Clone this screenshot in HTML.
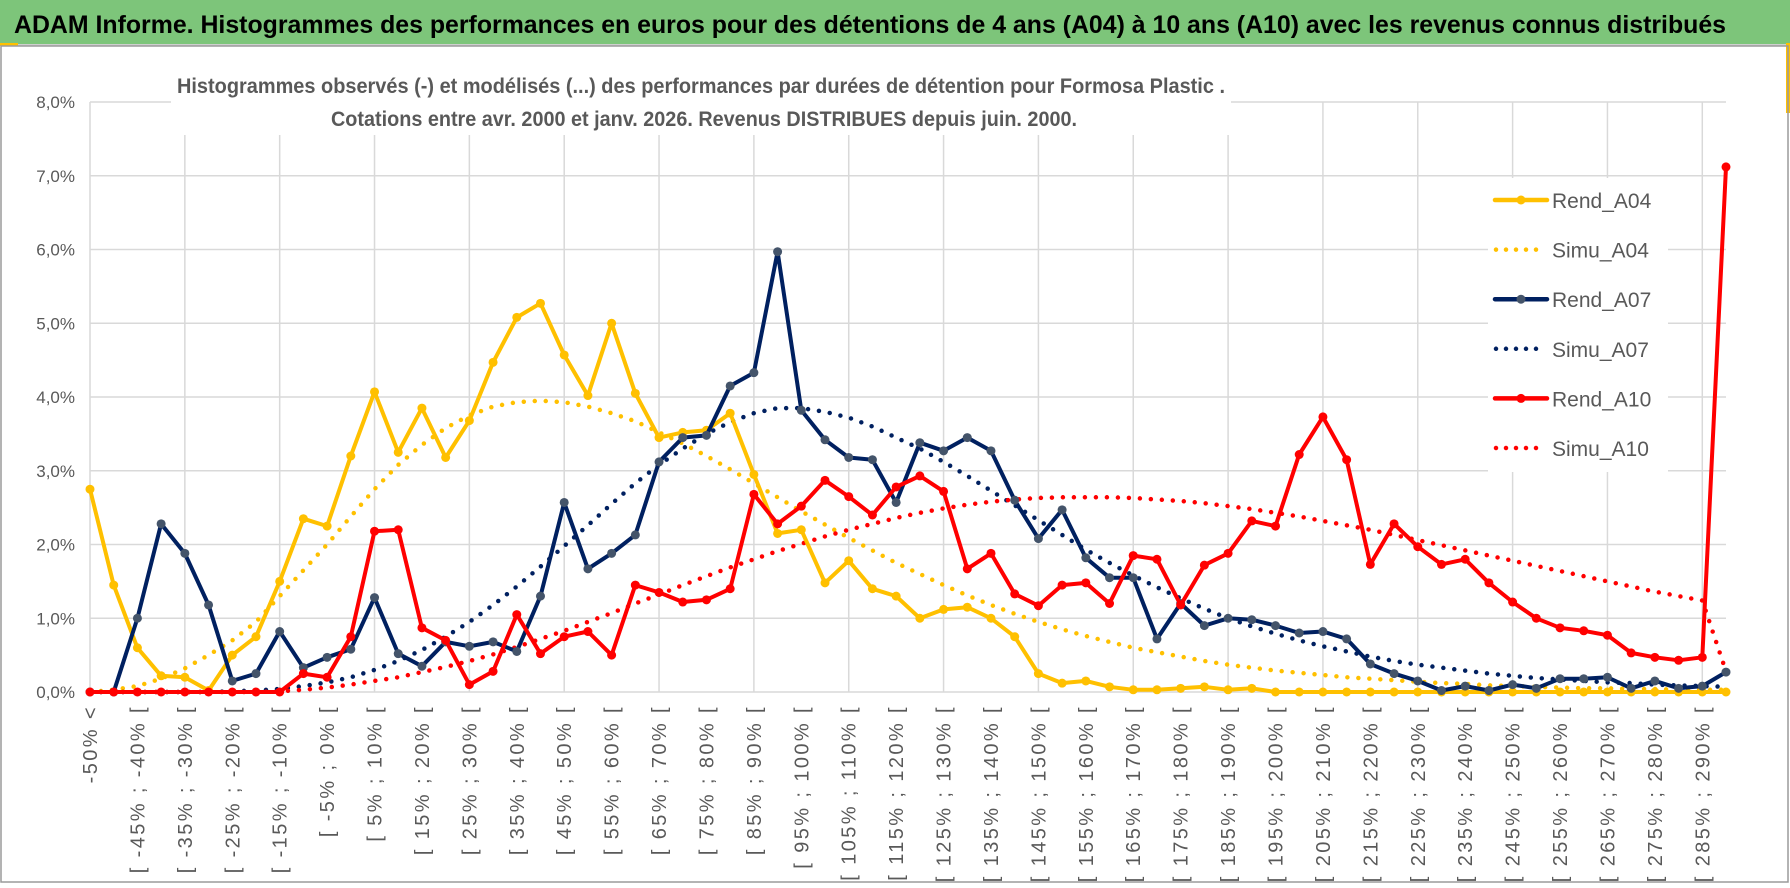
<!DOCTYPE html>
<html><head><meta charset="utf-8"><style>
html,body{margin:0;padding:0;background:#fff;width:1790px;height:888px;overflow:hidden}
svg{display:block;font-family:"Liberation Sans Narrow","Liberation Sans",sans-serif}
</style></head><body>
<svg id="chart" width="1790" height="888" viewBox="0 0 1790 888" xmlns="http://www.w3.org/2000/svg">
<rect x="0" y="0" width="1790" height="888" fill="#fff"/>
<rect x="0" y="0" width="1790" height="44" fill="#7DC57A"/>
<line x1="0" y1="45" x2="1790" y2="45" stroke="#cfcfcf" stroke-width="2"/>
<rect x="0" y="43" width="18" height="3" fill="#FFC000"/>
<rect x="1786" y="43" width="4" height="70" fill="#FFC000"/>
<text x="14" y="33" font-size="25" font-weight="bold" fill="#000" textLength="1712" lengthAdjust="spacingAndGlyphs">ADAM Informe. Histogrammes des performances en euros pour des détentions de 4 ans (A04) à 10 ans (A10) avec les revenus connus distribués</text>
<rect x="1" y="46" width="1787" height="836" fill="none" stroke="#9a9a9a" stroke-width="1.5"/>
<g id="grid"></g>
<rect x="171" y="70" width="1060" height="65" fill="#fff"/>
<text x="177" y="93" font-size="21" font-weight="bold" fill="#595959" textLength="1048" lengthAdjust="spacingAndGlyphs">Histogrammes observés (-) et modélisés (...) des performances par durées de détention pour Formosa Plastic .</text>
<text x="331" y="126" font-size="21" font-weight="bold" fill="#595959" textLength="746" lengthAdjust="spacingAndGlyphs">Cotations entre avr. 2000 et janv. 2026. Revenus DISTRIBUES depuis juin. 2000.</text>
<g id="yaxis"></g>
<g id="xaxis"></g>
<g id="series"></g>
<g id="legend"></g>
</svg>
<script>
const categories = (function(){const a=["-50% <"];for(let k=1;k<70;k++){const lo=-50+5*(k-1),hi=lo+5;a.push("[ "+lo+"% ; "+hi+"% [");}return a;})();
const yTicks = [0,1,2,3,4,5,6,7,8];
const yTickLabels = ["0,0%","1,0%","2,0%","3,0%","4,0%","5,0%","6,0%","7,0%","8,0%"];
const rendA04 = [2.75,1.45,0.6,0.22,0.2,0.02,0.5,0.75,1.5,2.35,2.25,3.2,4.07,3.25,3.85,3.18,3.68,4.47,5.08,5.27,4.57,4.02,5.0,4.05,3.45,3.52,3.55,3.78,2.95,2.15,2.2,1.48,1.78,1.4,1.3,1.0,1.12,1.15,1.0,0.75,0.25,0.12,0.15,0.07,0.03,0.03,0.05,0.07,0.03,0.05,0,0,0,0,0,0,0,0,0,0,0,0,0,0,0,0,0,0,0,0];
const simuA04 = [0,0.03,0.08,0.18,0.32,0.5,0.7,0.95,1.3,1.65,2.0,2.38,2.75,3.08,3.35,3.58,3.75,3.87,3.93,3.95,3.93,3.87,3.78,3.67,3.52,3.37,3.2,3.02,2.83,2.64,2.45,2.27,2.09,1.92,1.75,1.6,1.45,1.31,1.18,1.06,0.95,0.85,0.76,0.68,0.6,0.54,0.48,0.42,0.37,0.33,0.29,0.26,0.23,0.2,0.18,0.16,0.14,0.12,0.11,0.09,0.08,0.07,0.06,0.05,0.05,0.04,0.04,0.03,0.03,0.03];
const rendA07 = [0,0,1.0,2.28,1.88,1.18,0.15,0.25,0.82,0.33,0.47,0.58,1.28,0.52,0.35,0.68,0.62,0.68,0.55,1.3,2.57,1.67,1.88,2.13,3.12,3.45,3.48,4.15,4.33,5.97,3.82,3.42,3.18,3.15,2.57,3.38,3.27,3.45,3.27,2.6,2.08,2.47,1.82,1.55,1.55,0.72,1.2,0.9,1.0,0.98,0.9,0.8,0.82,0.72,0.38,0.25,0.15,0.02,0.08,0.02,0.1,0.05,0.18,0.18,0.2,0.05,0.15,0.05,0.08,0.27];
const simuA07 = [0,0,0,0,0,0,0.01,0.02,0.04,0.08,0.13,0.2,0.3,0.42,0.57,0.75,0.95,1.18,1.43,1.7,1.98,2.26,2.55,2.83,3.08,3.3,3.5,3.66,3.78,3.85,3.85,3.8,3.72,3.6,3.45,3.3,3.12,2.93,2.73,2.53,2.33,2.13,1.93,1.75,1.58,1.42,1.27,1.13,1.0,0.89,0.79,0.7,0.62,0.55,0.48,0.42,0.37,0.33,0.29,0.25,0.22,0.19,0.17,0.15,0.13,0.12,0.1,0.09,0.08,0.07];
const rendA10 = [0,0,0,0,0,0,0,0,0,0.25,0.2,0.75,2.18,2.2,0.87,0.7,0.1,0.28,1.05,0.52,0.75,0.82,0.5,1.45,1.35,1.22,1.25,1.4,2.68,2.28,2.52,2.87,2.65,2.4,2.78,2.93,2.72,1.67,1.88,1.33,1.17,1.45,1.48,1.2,1.85,1.8,1.18,1.72,1.88,2.32,2.25,3.22,3.73,3.15,1.73,2.28,1.97,1.73,1.8,1.48,1.22,1.0,0.87,0.83,0.77,0.53,0.47,0.43,0.47,7.12];
const simuA10 = [0,0,0,0,0,0,0,0,0.01,0.03,0.06,0.1,0.15,0.2,0.27,0.34,0.42,0.51,0.61,0.72,0.83,0.95,1.07,1.2,1.32,1.45,1.57,1.69,1.8,1.91,2.01,2.11,2.2,2.28,2.36,2.43,2.49,2.54,2.58,2.61,2.63,2.64,2.64,2.64,2.63,2.61,2.59,2.56,2.52,2.48,2.43,2.38,2.32,2.26,2.2,2.13,2.06,1.99,1.92,1.85,1.78,1.71,1.64,1.57,1.5,1.43,1.36,1.3,1.24,0.28];

const NS="http://www.w3.org/2000/svg";
const X0=90,X1=1726,Y0=692,Y8=102;
const xs=i=>X0+(X1-X0)*i/(categories.length-1);
const ys=v=>Y0-(Y0-Y8)*v/8;
function mk(tag,parent,attrs){const e=document.createElementNS(NS,tag);for(const k in attrs)e.setAttribute(k,attrs[k]);parent.appendChild(e);return e;}

const grid=document.getElementById('grid');
yTicks.forEach((t,i)=>{
  const l=mk('line',grid,{x1:X0,x2:X1,y1:ys(t),y2:ys(t),stroke:'#d9d9d9','stroke-width':1.5});
  
  
});
for(let i=0;i<categories.length;i+=4){
  const l=mk('line',grid,{x1:xs(i),x2:xs(i),y1:Y8,y2:Y0,stroke:'#d9d9d9','stroke-width':1.5});
  
  
}
const yax=document.getElementById('yaxis');
yTicks.forEach((t,i)=>{
  const e=mk('text',yax,{x:75,y:ys(t)+6,'text-anchor':'end','font-size':17,fill:'#595959'});
  e.textContent=yTickLabels[i];
  
  
});
const xax=document.getElementById('xaxis');
for(let i=0;i<categories.length;i+=2){
  const x=xs(i)+7;
  const e=mk('text',xax,{x:x,y:705,transform:'rotate(-90 '+x+' 705)','text-anchor':'end','font-size':20,'letter-spacing':2.4,fill:'#595959'});
  e.textContent=categories[i];
  
  
}
const ser=document.getElementById('series');
function pts(arr){return arr.map((v,i)=>xs(i).toFixed(1)+','+ys(v).toFixed(1)).join(' ');}
function dotted(arr,color,name){
  const p=mk('polyline',ser,{points:pts(arr),fill:'none',stroke:color,'stroke-width':4.5,'stroke-dasharray':'0 11','stroke-linecap':'round'});
  
  
}
function solid(arr,color,mcolor,name){
  const p=mk('polyline',ser,{points:pts(arr),fill:'none',stroke:color,'stroke-width':4,'stroke-linejoin':'round'});
  
  
  arr.forEach((v,i)=>{
    const c=mk('circle',ser,{cx:xs(i),cy:ys(v),r:4.5,fill:mcolor});
    
    
  });
}
dotted(simuA04,'#FFC000','simu-a04-line');
dotted(simuA07,'#002060','simu-a07-line');
dotted(simuA10,'#FF0000','simu-a10-line');
solid(rendA04,'#FFC000','#FFC000','rend-a04-line');
solid(rendA07,'#002060','#44546A','rend-a07-line');
solid(rendA10,'#FF0000','#FF0000','rend-a10-line');

const lg=document.getElementById('legend');
mk('rect',lg,{x:1488,y:178,width:180,height:294,fill:'#fff'});
const items=[["Rend_A04","#FFC000",false,"#FFC000"],["Simu_A04","#FFC000",true],["Rend_A07","#002060",false,"#44546A"],["Simu_A07","#002060",true],["Rend_A10","#FF0000",false,"#FF0000"],["Simu_A10","#FF0000",true]];
items.forEach((it,k)=>{
  const y=200+49.6*k;
  const g=mk('g',lg,{});
  
  
  if(it[2]) mk('line',g,{x1:1496,x2:1541,y1:y,y2:y,stroke:it[1],'stroke-width':4.5,'stroke-dasharray':'0 10','stroke-linecap':'round'});
  else {mk('line',g,{x1:1495,x2:1547,y1:y,y2:y,stroke:it[1],'stroke-width':4.5,'stroke-linecap':'round'});mk('circle',g,{cx:1521,cy:y,r:4.5,fill:it[3]});}
  const t=mk('text',g,{x:1552,y:y+8,'font-size':21,fill:'#595959'});
  t.textContent=it[0];
});
</script>
</body></html>
